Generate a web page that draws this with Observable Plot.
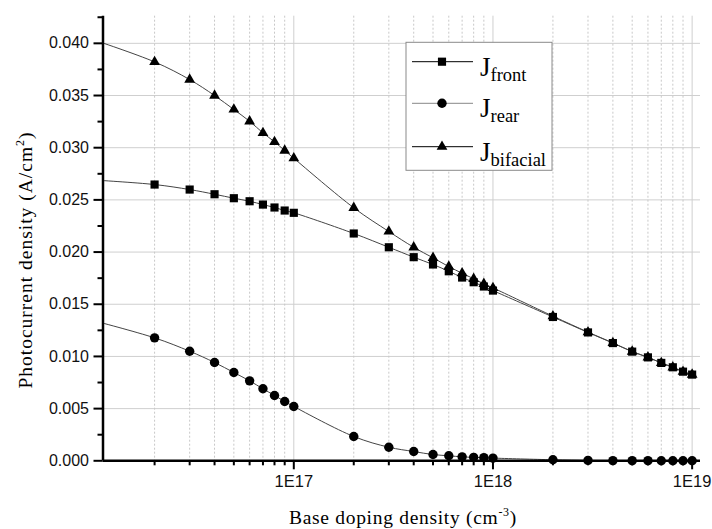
<!DOCTYPE html>
<html><head><meta charset="utf-8">
<script src="https://cdn.jsdelivr.net/npm/d3@7"></script>
<script src="https://cdn.jsdelivr.net/npm/@observablehq/plot@0.6"></script>
<style>html,body{margin:0;padding:0;background:#fff}svg{display:block}</style>
</head><body><div id="chart"></div>
<script>
// ---- data ----
const doping = [1e16, 2e16, 3e16, 4e16, 5e16, 6e16, 7e16, 8e16, 9e16,
  1e17, 2e17, 3e17, 4e17, 5e17, 6e17, 7e17, 8e17, 9e17,
  1e18, 2e18, 3e18, 4e18, 5e18, 6e18, 7e18, 8e18, 9e18, 1e19];
const jFront = [0.0269, 0.02647, 0.02599, 0.02554, 0.02516, 0.02487, 0.02455, 0.02427, 0.02398,
  0.02376, 0.02178, 0.02046, 0.01951, 0.01881, 0.01816, 0.01756, 0.01711, 0.0167,
  0.01631, 0.01378, 0.0123, 0.01128, 0.01046, 0.00991, 0.00938, 0.00896, 0.00854, 0.00826];
const jRear = [0.0134, 0.01178, 0.0105, 0.00942, 0.00846, 0.00766, 0.0069, 0.00626, 0.00568,
  0.0052, 0.00233, 0.0013, 0.00089, 0.0006, 0.00048, 0.00038, 0.00033, 0.0003,
  0.00026, 0.0001, 0.00004, 0.00002, 0.00001, 0.00001, 0, 0, 0, 0];
const jBifacial = [0.0403, 0.03822, 0.03653, 0.035, 0.03366, 0.03253, 0.03142, 0.03056, 0.02973,
  0.02899, 0.02424, 0.02197, 0.02046, 0.01945, 0.01861, 0.01797, 0.01744, 0.01696,
  0.01657, 0.01386, 0.01233, 0.0113, 0.01047, 0.00992, 0.00938, 0.00896, 0.00854, 0.00826];
const seriesNames = ["front", "rear", "bifacial"];
const seriesSymbols = ["square", "circle", "triangle"];
const yMajorTicks = [0, 0.005, 0.01, 0.015, 0.02, 0.025, 0.03, 0.035, 0.04];
const yMinorTicks = [0.0025, 0.0075, 0.0125, 0.0175, 0.0225, 0.0275, 0.0325, 0.0375, 0.0425];
const xMajorTicks = [1e17, 1e18, 1e19];
const xMinorTicks = [2e16,3e16,4e16,5e16,6e16,7e16,8e16,9e16,
  2e17,3e17,4e17,5e17,6e17,7e17,8e17,9e17, 2e18,3e18,4e18,5e18,6e18,7e18,8e18,9e18];
const xTitle = "Base doping density (cm";
const xTitleSup = "-3";
const yTitle = "Photocurrent density (A/cm";
const yTitleSup = "2";

// ---- build ----
const xDomain = [10 ** 16.042, 10 ** 19.042];
const yDomain = [0, 0.0426];
const valuesBySeries = [jFront, jRear, jBifacial];
const data = seriesNames.flatMap((k, s) => doping.map((d, i) => ({d, v: valuesBySeries[s][i], key: k})));
const sizes = {square: 4.6, circle: 4.7, triangle: 4.0};

const marks = [
  Plot.gridY(yMajorTicks.filter(v => v > 0), {stroke: "#cfcfcf", strokeOpacity: 1, strokeWidth: 1}),
  Plot.gridX(xMinorTicks, {stroke: "#c8c8c8", strokeOpacity: 1, strokeWidth: 1, strokeDasharray: "2,2"}),
  Plot.gridX(xMajorTicks, {stroke: "#cfcfcf", strokeOpacity: 1, strokeWidth: 1}),
  Plot.line(data, {x: "d", y: "v", z: "key", stroke: "#444", strokeWidth: 1, curve: "catmull-rom", clip: true}),
  ...seriesNames.map((k, s) => Plot.dot(data.filter(p => p.key === k && p.d >= xDomain[0]),
      {x: "d", y: "v", symbol: () => seriesSymbols[s], r: sizes[seriesSymbols[s]], fill: "black", stroke: "none"})),
  Plot.ruleX([xDomain[0]], {stroke: "black", strokeWidth: 2.5}),
  Plot.ruleY([0], {stroke: "black", strokeWidth: 2.5}),
  Plot.axisY(yMajorTicks, {tickSize: 9, tickPadding: 5, strokeWidth: 2, tickFormat: d3.format(".3f"), label: null, fontSize: 16, fill: "#111"}),
  Plot.axisY(yMinorTicks, {tickSize: 5, strokeWidth: 2, tickFormat: () => "", label: null}),
  Plot.axisX(xMajorTicks, {tickSize: 9, tickPadding: 5, strokeWidth: 2, tickFormat: d => "1E" + Math.round(Math.log10(d)), label: null, fontSize: 16.5, fill: "#111"}),
  Plot.axisX(xMinorTicks, {tickSize: 5, strokeWidth: 2, tickFormat: () => "", label: null})
];

const svg = Plot.plot({
  width: 712, height: 529,
  marginLeft: 102.5, marginRight: 12, marginTop: 15.7, marginBottom: 68.7,
  x: {type: "log", domain: xDomain},
  y: {domain: yDomain},
  style: {fontFamily: "'Liberation Sans', Arial, sans-serif", background: "#fff", color: "#000"},
  marks
});
document.getElementById("chart").appendChild(svg);

// ---- axis titles and legend (text + layout) ----
const g = d3.select(svg);
const serif = "'Liberation Serif', 'Times New Roman', serif";
const xt = g.append("text").attr("x", 403).attr("y", 523.5).attr("text-anchor", "middle")
  .attr("font-family", serif).attr("font-size", 19.5).attr("letter-spacing", 0.7).attr("fill", "#000");
xt.append("tspan").text(xTitle);
xt.append("tspan").attr("font-size", 12).attr("dy", -8).text(xTitleSup);
xt.append("tspan").attr("dy", 8).text(")");

const yt = g.append("text").attr("transform", "translate(31.5,260) rotate(-90)").attr("text-anchor", "middle")
  .attr("font-family", serif).attr("font-size", 19.5).attr("letter-spacing", 1).attr("fill", "#000");
yt.append("tspan").text(yTitle);
yt.append("tspan").attr("font-size", 12).attr("dy", -8).text(yTitleSup);
yt.append("tspan").attr("dy", 8).text(")");

const lg = g.append("g");
lg.append("rect").attr("x", 406).attr("y", 42.3).attr("width", 146).attr("height", 128)
  .attr("fill", "#fff").attr("stroke", "#8a8a8a").attr("stroke-width", 1);
const rowsY = [61.7, 103.3, 146.7];
const d3Sym = {square: d3.symbolSquare, circle: d3.symbolCircle, triangle: d3.symbolTriangle};
seriesNames.forEach((k, i) => {
  const y = rowsY[i];
  lg.append("line").attr("x1", 412).attr("x2", 473).attr("y1", y).attr("y2", y)
    .attr("stroke", k === "rear" ? "#888" : "#000").attr("stroke-width", 1);
  const sym = seriesSymbols[i];
  const r = sizes[sym];
  lg.append("path").attr("transform", `translate(442,${y})`)
    .attr("d", d3.symbol(d3Sym[sym], Math.PI * r * r)()).attr("fill", "#000");
  const t = lg.append("text").attr("x", 480).attr("y", y + 14).attr("text-anchor", "start")
    .attr("font-family", serif).attr("font-size", 27).attr("fill", "#000");
  t.append("tspan").text("J");
  t.append("tspan").attr("font-size", 18.5).attr("dy", 5).text(k);
});
</script>
</body></html>
